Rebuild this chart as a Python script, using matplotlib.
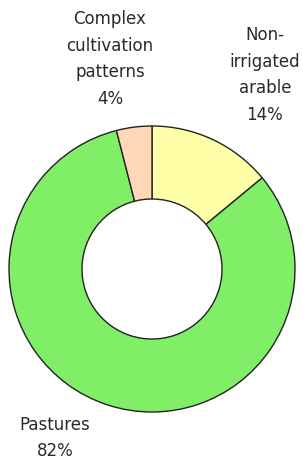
import matplotlib.pyplot as plt

# land use shares
labels = ['Non-\nirrigated\narable', 'Pastures', 'Complex\ncultivation\npatterns']
shares = [14, 82, 4]
colors = ['#ffffa8', '#80ee66', '#ffd8b8']

H = 463
fig = plt.figure(figsize=(3.03, 4.63), dpi=100)
ax = fig.add_axes([0, 0, 1, 1])

# donut, drawn clockwise from the top
ax.pie(shares, colors=colors, startangle=90, counterclock=False,
       center=(152, H - 269), radius=143, frame=True,
       wedgeprops=dict(width=73, edgecolor='#222222', linewidth=1))
ax.set_xlim(0, 303)
ax.set_ylim(0, H)
ax.set_aspect('equal')
ax.axis('off')

# label placement, by hand as in the original
label_pos = [(265, 75), (55, 438), (110, 59)]
for lab, val, (x, y) in zip(labels, shares, label_pos):
    ax.text(x, H - y, f'{lab}\n{val}%', ha='center', va='center',
            fontsize=12, color='#2a2a2a', linespacing=1.6)

fig.savefig('out.png', dpi=100)
